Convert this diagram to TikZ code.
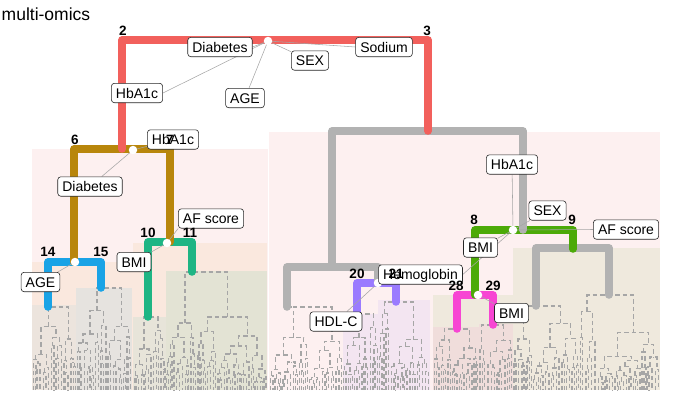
\documentclass[tikz,border=0pt]{standalone}
\usepackage{fontspec}
\setmainfont{Liberation Sans}
\pgfdeclarelayer{rects}
\pgfdeclarelayer{dend}
\pgfdeclarelayer{branches}
\pgfdeclarelayer{conn}
\pgfsetlayers{rects,dend,branches,conn,main}
\definecolor{cred}{HTML}{F2605C}
\definecolor{cgold}{HTML}{B8860B}
\definecolor{cteal}{HTML}{1EB584}
\definecolor{cblue}{HTML}{19A3E6}
\definecolor{cgreen}{HTML}{4CAA08}
\definecolor{cpurple}{HTML}{9A7BFF}
\definecolor{cmag}{HTML}{F745D3}
\definecolor{cgray}{HTML}{B2B2B2}
\definecolor{dgray}{HTML}{A6A6A6}
\definecolor{connc}{HTML}{A6A6A6}
\definecolor{bpink}{HTML}{FDF0F0}
\definecolor{bpeach}{HTML}{FAE8DE}
\definecolor{bblueL}{HTML}{ECE4DD}
\definecolor{bblueR}{HTML}{E6E3DF}
\definecolor{btealL}{HTML}{E7E4D9}
\definecolor{btealR}{HTML}{E3E3D4}
\definecolor{bpurp}{HTML}{F3E5F1}
\definecolor{bbeige}{HTML}{EFE9DD}
\definecolor{bmag}{HTML}{F0DDDB}
\newcommand\dthr{3.6}
\newcommand\dbot{390}
% #1 left, #2 right, #3 height, #4 x of coloured stem (root only, else empty)
\newcommand\dtreeA[4]{%
  \begingroup
  \pgfmathsetmacro\dw{#2-(#1)}%
  \pgfmathsetmacro\dm{#1+\dw*(0.2+0.6*rnd)}%
  \pgfmathsetmacro\dwa{\dm-(#1)}%
  \pgfmathsetmacro\dwb{#2-\dm}%
  \ifdim\dwa pt<\dthr pt
    \def\dya{\dbot}%
    \pgfmathsetmacro\dxa{(#1+\dm)/2}%
  \else
    \pgfmathsetmacro\dya{#3+(\dbot-#3)*(0.12+0.33*rnd)}%
    \edef\dnext{\noexpand\dtreeA{#1}{\dm}{\dya}{}}\dnext
    \let\dxa\dret
  \fi
  \ifdim\dwb pt<\dthr pt
    \def\dyb{\dbot}%
    \pgfmathsetmacro\dxb{(\dm+#2)/2}%
  \else
    \pgfmathsetmacro\dyb{#3+(\dbot-#3)*(0.12+0.33*rnd)}%
    \edef\dnext{\noexpand\dtreeA{\dm}{#2}{\dyb}{}}\dnext
    \let\dxb\dret
  \fi
  \draw[dtr] (\dxa,\dya) -- (\dxa,#3) -- (\dxb,#3) -- (\dxb,\dyb);
  \ifx\relax#4\relax\else
    \pgfmathsetmacro\dlo{min(#4,\dxa)}%
    \pgfmathsetmacro\dhi{max(#4,\dxb)}%
    \draw[dtr] (\dlo,#3) -- (\dxa,#3);
    \draw[dtr] (\dxb,#3) -- (\dhi,#3);
  \fi
  \pgfmathsetmacro\dr{(\dxa+\dxb)/2}%
  \global\let\dret\dr
  \endgroup
}
\begin{document}
\begin{tikzpicture}[x=1pt,y=-1pt,
  branch/.style={line width=7.5pt,line cap=round,line join=round},
  dtr/.style={draw=dgray,line width=1.3pt,dash pattern=on 4.5pt off 3pt},
  conn/.style={draw=connc,line width=0.55pt},
  lab/.style={draw=black!85,fill=white,rounded corners=3pt,line width=0.6pt,
    font=\fontsize{14}{16}\selectfont,text height=11.5pt,text depth=1.5pt,
    inner xsep=4.6pt,inner ysep=3.2pt},
  num/.style={font=\fontsize{13.5}{15}\selectfont\bfseries,inner sep=0pt},
  sdot/.style={circle,fill=white,inner sep=0pt,minimum size=8.5pt}]
\useasboundingbox (0,0) rectangle (692,408);
\pgfmathsetseed{17}
% background rectangles
\begin{pgfonlayer}{rects}
\fill[bpink] (32,149) rectangle (268,390);
\fill[bpink] (269,132) rectangle (660,390);
\fill[bpeach] (32,262) rectangle (133,390);
\fill[bpeach] (133,243) rectangle (267,390);
\fill[bblueL] (32,305) rectangle (76,390);
\fill[bblueR] (76,288) rectangle (132,390);
\fill[btealL] (133,317) rectangle (166,390);
\fill[btealR] (166,271) rectangle (267,390);
\fill[bpurp] (343,314) rectangle (378,390);
\fill[bpurp] (378,300) rectangle (430,390);
\fill[bbeige] (433,295) rectangle (513,390);
\fill[bmag] (433,327) rectangle (479,390);
\fill[bmag] (479,324) rectangle (513,390);
\fill[bbeige] (513,248) rectangle (660,390);
\end{pgfonlayer}
% dashed leaf dendrograms
\begin{pgfonlayer}{dend}
\dtreeA{32}{76}{307}{48}
\dtreeA{76}{132}{288}{101}
\dtreeA{133}{166}{317}{148}
\dtreeA{166}{267}{272}{192}
\dtreeA{269}{343}{307}{287}
\dtreeA{343}{378}{314}{357}
\dtreeA{378}{430}{302}{396}
\dtreeA{433}{479}{329}{457}
\dtreeA{479}{513}{325}{493}
\dtreeA{513}{580}{306}{536}
\dtreeA{580}{660}{295}{609}
\end{pgfonlayer}
% coloured branches (children first, parents on top)
\begin{pgfonlayer}{branches}
\draw[branch,cgray] (536,306) -- (536,248) -- (609,248) -- (609,295);
\draw[branch,cmag] (457,329) -- (457,295) -- (493,295) -- (493,325);
\draw[branch,cgreen] (475,295) -- (475,230) -- (573,230) -- (573,249);
\draw[branch,cpurple] (357,314) -- (357,283) -- (396,283) -- (396,302);
\draw[branch,cgray] (287,307) -- (287,267) -- (378,267) -- (378,283);
\draw[branch,cgray] (332,267) -- (332,131) -- (523,131) -- (523,230);
\draw[branch,cblue] (48,307) -- (48,262) -- (101,262) -- (101,288);
\draw[branch,cteal] (148,317) -- (148,242) -- (192,242) -- (192,272);
\draw[branch,cgold] (74,262) -- (74,149) -- (170,149) -- (170,242);
\draw[branch,cred] (122,149) -- (122,40) -- (428,40) -- (428,131);
\end{pgfonlayer}
% labels
\node[lab] (Ldia1) at (220,47) {Diabetes};
\node[lab] (Lsex1) at (310,60.5) {SEX};
\node[lab] (Lage1) at (245,98) {AGE};
\node[lab] (Lhba1) at (137,93) {HbA1c};
\node[lab] (Lsod) at (384,47) {Sodium};
\node[lab] (Lhba2) at (173,139.5) {HbA1c};
\node[lab] (Ldia2) at (90,186.5) {Diabetes};
\node[lab] (Laf1) at (211,218.5) {AF score};
\node[lab] (Lbmi1) at (134,262) {BMI};
\node[lab] (Lage2) at (40.5,282) {AGE};
\node[lab] (Lhba3) at (512,164.5) {HbA1c};
\node[lab] (Lsex3) at (547.5,210.5) {SEX};
\node[lab] (Laf3) at (626,229.5) {AF score};
\node[lab] (Lbmi3) at (480.5,247.5) {BMI};
\node[lab] (Lhem) at (420.5,274.5) {Hemoglobin};
\node[lab] (Lhdl) at (336,321.5) {HDL-C};
\node[lab] (Lbmi4) at (511.5,313) {BMI};
% split points and connectors
\coordinate (p2) at (268,41);
\coordinate (p6) at (133,150);
\coordinate (p10) at (167,243);
\coordinate (p14) at (75,262);
\coordinate (p8) at (513,230);
\coordinate (p20) at (378,283);
\coordinate (p28) at (478,295);
\begin{pgfonlayer}{conn}
\draw[conn] (p2) -- (Ldia1.east);
\draw[conn] (p2) -- (Lsex1);
\draw[conn] (p2) -- (Lage1);
\draw[conn] (p2) -- (Lhba1.east);
\draw[conn] (p2) -- (Lsod.west);
\draw[conn] (p6) -- (Lhba2);
\draw[conn] (p6) -- (Ldia2);
\draw[conn] (p10) -- (Laf1.south west);
\draw[conn] (p10) -- (Lbmi1.north east);
\draw[conn] (p14) -- (Lage2);
\draw[conn] (p8) -- (Lhba3);
\draw[conn] (p8) -- (Lsex3);
\draw[conn] (p8) -- (Laf3.west);
\draw[conn] (p8) -- (Lbmi3);
\draw[conn] (p8) -- (Lhem.east);
\draw[conn] (p20) -- (Lhdl);
\draw[conn] (p28) -- (Lbmi4);
\node[sdot] (d2) at (p2) {};
\node[sdot] (d6) at (p6) {};
\node[sdot] (d10) at (p10) {};
\node[sdot] (d14) at (p14) {};
\node[sdot] (d8) at (p8) {};
\node[sdot] (d20) at (p20) {};
\node[sdot] (d28) at (p28) {};
\end{pgfonlayer}
% node numbers
\node[num] (n2) at (123,31) {2};
\node[num] (n3) at (427,31) {3};
\node[num] (n6) at (75,140) {6};
\node[num] (n7) at (170,140) {7};
\node[num] (n10) at (148,233) {10};
\node[num] (n11) at (190,233) {11};
\node[num] (n14) at (48,252) {14};
\node[num] (n15) at (101,252) {15};
\node[num] (n8) at (474,220) {8};
\node[num] (n9) at (572,220) {9};
\node[num] (n20) at (357,274) {20};
\node[num] (n21) at (396,274) {21};
\node[num] (n28) at (456,286) {28};
\node[num] (n29) at (493,286) {29};
% title
\node[anchor=base west,inner sep=0pt,font=\fontsize{17.5}{20}\selectfont] (title) at (1.5,20) {multi-omics};
\end{tikzpicture}
\end{document}
